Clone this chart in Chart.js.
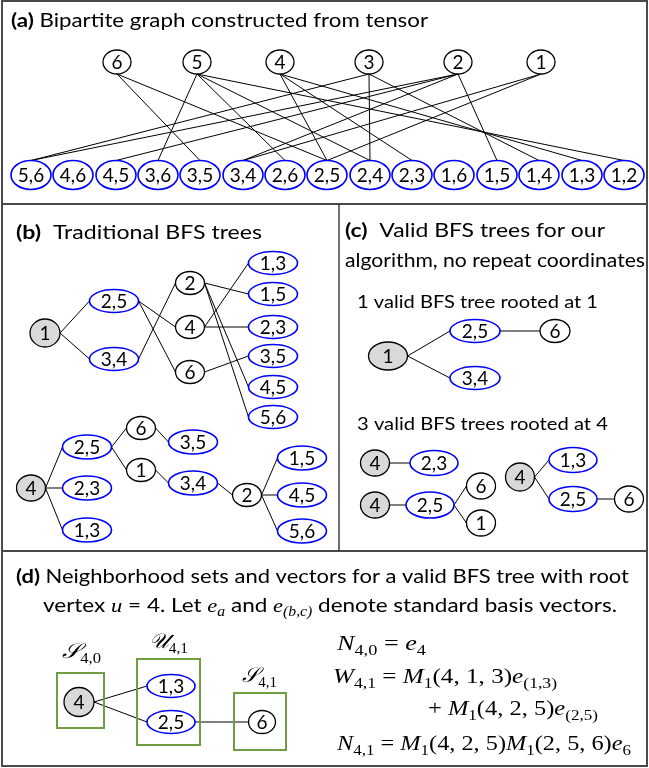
<!DOCTYPE html>
<html>
<head>
<meta charset="utf-8">
<script src="https://cdn.jsdelivr.net/npm/chart.js@4.4.0/dist/chart.umd.min.js"></script>
<style>
  html, body { margin: 0; padding: 0; background: #fff; }
  #wrap { width: 649px; height: 768px; }
</style>
</head>
<body>
<div id="wrap"><canvas id="fig" width="649" height="768"></canvas></div>
<script>
// (a) bipartite graph: tensor vertices on top, coordinate pairs below
const topLabels = ['6', '5', '4', '3', '2', '1'];
const topX = [117, 197, 280, 369, 458, 541];
const pairLabels = ['5,6', '4,6', '4,5', '3,6', '3,5', '3,4', '2,6', '2,5', '2,4', '2,3', '1,6', '1,5', '1,4', '1,3', '1,2'];
const pairX = [31, 73, 116, 158, 200, 243, 285, 327, 370, 412, 454, 497, 539, 582, 624];
const bipartiteEdges = [
  ['6', '3,5'], ['6', '2,5'],
  ['5', '3,6'], ['5', '2,6'], ['5', '2,4'], ['5', '1,2'],
  ['4', '2,5'], ['4', '2,3'], ['4', '1,3'],
  ['3', '5,6'], ['3', '2,4'], ['3', '1,4'],
  ['2', '5,6'], ['2', '4,5'], ['2', '3,4'], ['2', '1,5'],
  ['1', '3,4'], ['1', '2,5']
];

// (b) traditional BFS tree rooted at 1
const bfs1Labels = ['1', '2,5', '3,4', '2', '4', '6', '1,3', '1,5', '2,3', '3,5', '4,5', '5,6'];
const bfs1X = [45, 114, 114, 190, 190, 190, 273, 273, 273, 273, 273, 273];
const bfs1Y = [333, 301, 359, 283, 327, 372, 263, 294, 327, 356, 387, 417];
const bfs1Edges = [['1', '2,5'], ['1', '3,4'], ['2,5', '4'], ['2,5', '6'], ['3,4', '2'],
  ['2', '1,5'], ['2', '4,5'], ['2', '5,6'], ['4', '1,3'], ['4', '2,3'], ['6', '3,5']];

// (b) traditional BFS tree rooted at 4
const bfs4Labels = ['4', '2,5', '2,3', '1,3', '6', '1', '3,5', '3,4', '2', '1,5', '4,5', '5,6'];
const bfs4X = [31, 87, 87, 87, 141, 141, 193, 193, 247, 302, 302, 302];
const bfs4Y = [488, 447, 488, 530, 428, 470, 442, 483, 495, 458, 495, 531];
const bfs4Edges = [['4', '2,5'], ['4', '2,3'], ['4', '1,3'], ['2,5', '6'], ['2,5', '1'],
  ['6', '3,5'], ['1', '3,4'], ['3,4', '2'], ['2', '1,5'], ['2', '4,5'], ['2', '5,6']];

// (c) valid BFS trees
const valid1Labels = ['1', '2,5', '3,4', '6'];
const valid1X = [388, 475, 475, 555];
const valid1Y = [356, 331, 378, 331];
const valid1Edges = [['1', '2,5'], ['1', '3,4'], ['2,5', '6']];

const validALabels = ['4', '2,3'];
const validAX = [375, 434];
const validAY = [463, 463];
const validAEdges = [['4', '2,3']];

const validBLabels = ['4', '2,5', '6', '1'];
const validBX = [375, 430, 481, 481];
const validBY = [505, 505, 486, 523];
const validBEdges = [['4', '2,5'], ['2,5', '6'], ['2,5', '1']];

const validCLabels = ['4', '1,3', '2,5', '6'];
const validCX = [520, 573, 573, 629];
const validCY = [477, 460, 499, 499];
const validCEdges = [['4', '1,3'], ['4', '2,5'], ['2,5', '6']];

// (d) neighborhood sets
const hoodLabels = ['4', '1,3', '2,5', '6'];
const hoodX = [79, 171, 171, 262];
const hoodY = [702, 686, 722, 722];
const hoodEdges = [['4', '1,3'], ['4', '2,5'], ['2,5', '6']];

// ---------------------------------------------------------------
const BLUE = '#0000ff';
const GRAY = '#d9d9d9';
const GREEN = '#6f9e43';
const SANS = 'Lato';
const SERIF = '"Liberation Serif"';

function isPair(l) { return l.indexOf(',') >= 0; }

// node groups built from the arrays above (root = first node of a tree)
const groups = [
  { labels: topLabels.concat(pairLabels), xs: topX.concat(pairX),
    ys: topLabels.map(() => 62).concat(pairLabels.map(() => 175)),
    edges: bipartiteEdges, link: 'vertical', root: false,
    vert: [14, 12], pair: [20, 14.5] },
  { labels: bfs1Labels, xs: bfs1X, ys: bfs1Y, edges: bfs1Edges, link: 'side', root: true,
    vert: [14.5, 11.5], pair: [24.5, 11.5], rootSize: [15, 14] },
  { labels: bfs4Labels, xs: bfs4X, ys: bfs4Y, edges: bfs4Edges, link: 'side', root: true,
    vert: [14.5, 11.5], pair: [24.5, 12], rootSize: [14.5, 13] },
  { labels: valid1Labels, xs: valid1X, ys: valid1Y, edges: valid1Edges, link: 'side', root: true,
    vert: [15, 11.5], pair: [25, 11.5], rootSize: [19.5, 14] },
  { labels: validALabels, xs: validAX, ys: validAY, edges: validAEdges, link: 'side', root: true,
    vert: [14.5, 13], pair: [24, 12.5], rootSize: [14.5, 13] },
  { labels: validBLabels, xs: validBX, ys: validBY, edges: validBEdges, link: 'side', root: true,
    vert: [14.5, 13], pair: [24, 13], rootSize: [14.5, 13] },
  { labels: validCLabels, xs: validCX, ys: validCY, edges: validCEdges, link: 'side', root: true,
    vert: [14.5, 13], pair: [24, 12.5], rootSize: [14.5, 14] },
  { labels: hoodLabels, xs: hoodX, ys: hoodY, edges: hoodEdges, link: 'side', root: true,
    vert: [13.5, 11.5], pair: [24, 11.5], rootSize: [15, 14.5] }
];

function nodeSize(g, i) {
  if (g.root && i === 0) return g.rootSize;
  return isPair(g.labels[i]) ? g.pair : g.vert;
}

function edgeEnds(g, a, b) {
  const i = g.labels.indexOf(a), j = g.labels.indexOf(b);
  const si = nodeSize(g, i), sj = nodeSize(g, j);
  if (g.link === 'vertical') {
    return [{ x: g.xs[i], y: g.ys[i] + si[1] }, { x: g.xs[j], y: g.ys[j] - sj[1] }];
  }
  return [{ x: g.xs[i] + si[0], y: g.ys[i] }, { x: g.xs[j] - sj[0], y: g.ys[j] }];
}

const datasets = [];
groups.forEach(g => {
  g.edges.forEach(([a, b]) => {
    datasets.push({
      data: edgeEnds(g, a, b), showLine: true, borderColor: '#000', borderWidth: 1,
      pointRadius: 0, pointHoverRadius: 0, tension: 0, clip: false
    });
  });
});
groups.forEach(g => {
  datasets.push({
    nodeGroup: g, showLine: false, pointRadius: 0, pointHoverRadius: 0, clip: false,
    data: g.labels.map((l, i) => ({ x: g.xs[i], y: g.ys[i] }))
  });
});

// rich text: [text, style]; b bold, n normal, mi/mr math italic/roman, si/sr subscripts
function fontFor(style, size) {
  const sz = style[0] === 's' ? size * 0.7 : size;
  if (style === 'b') return `bold ${sz}px ${SANS}`;
  if (style === 'n') return `${sz}px ${SANS}`;
  if (style === 'mi' || style === 'si') return `italic ${sz}px ${SERIF}`;
  return `${sz}px ${SERIF}`;
}
function drawRich(ctx, parts, x, y, size, width) {
  let total = 0;
  const ws = parts.map(([t, s]) => {
    ctx.font = fontFor(s, size);
    const w = ctx.measureText(t).width;
    total += w;
    return w;
  });
  const k = width ? width / total : 1;
  ctx.save();
  ctx.translate(x, y);
  ctx.scale(k, 1);
  ctx.fillStyle = '#000';
  ctx.textAlign = 'left';
  ctx.textBaseline = 'alphabetic';
  let cx = 0;
  parts.forEach(([t, s], i) => {
    ctx.font = fontFor(s, size);
    ctx.fillText(t, cx, s[0] === 's' ? size * 0.22 : 0);
    cx += ws[i];
  });
  ctx.restore();
}

const captions = [
  { parts: [['(a)', 'b'], [' Bipartite graph constructed from tensor', 'n']], x: 11, y: 27, size: 19.5, w: 417 },
  { parts: [['(b)', 'b'], ['  Traditional BFS trees', 'n']], x: 16, y: 239, size: 19.5, w: 246 },
  { parts: [['(c)', 'b'], ['  Valid BFS trees for our', 'n']], x: 345, y: 237, size: 19.5, w: 260 },
  { parts: [['algorithm, no repeat coordinates', 'n']], x: 345, y: 267, size: 19.5, w: 300 },
  { parts: [['1 valid BFS tree rooted at 1', 'n']], x: 357, y: 308, size: 18, w: 241 },
  { parts: [['3 valid BFS trees rooted at 4', 'n']], x: 357, y: 430, size: 18, w: 251 },
  { parts: [['(d)', 'b'], [' Neighborhood sets and vectors for a valid BFS tree with root', 'n']], x: 16, y: 583, size: 19.5, w: 613 },
  { parts: [['vertex ', 'n'], ['u', 'mi'], [' = 4. Let ', 'n'], ['e', 'mi'], ['a', 'si'], [' and ', 'n'],
    ['e', 'mi'], ['(b,c)', 'si'], [' denote standard basis vectors.', 'n']], x: 43, y: 612, size: 19.5, w: 574 },
  { parts: [['\u{1D4AE}', 'mi'], ['4,0', 'sr']], x: 62, y: 658, size: 21, w: 39 },
  { parts: [['\u{1D4B0}', 'mi'], ['4,1', 'sr']], x: 149, y: 648, size: 21, w: 39 },
  { parts: [['\u{1D4AE}', 'mi'], ['4,1', 'sr']], x: 242, y: 682, size: 21, w: 35 },
  { parts: [['N', 'mi'], ['4,0', 'sr'], [' = ', 'mr'], ['e', 'mi'], ['4', 'sr']], x: 337, y: 650, size: 21, w: 89 },
  { parts: [['W', 'mi'], ['4,1', 'sr'], [' = ', 'mr'], ['M', 'mi'], ['1', 'sr'], ['(4, 1, 3)', 'mr'], ['e', 'mi'], ['(1,3)', 'sr']],
    x: 333, y: 683, size: 21, w: 224 },
  { parts: [['+ ', 'mr'], ['M', 'mi'], ['1', 'sr'], ['(4, 2, 5)', 'mr'], ['e', 'mi'], ['(2,5)', 'sr']], x: 428, y: 715, size: 21, w: 170 },
  { parts: [['N', 'mi'], ['4,1', 'sr'], [' = ', 'mr'], ['M', 'mi'], ['1', 'sr'], ['(4, 2, 5)', 'mr'], ['M', 'mi'], ['1', 'sr'],
    ['(2, 5, 6)', 'mr'], ['e', 'mi'], ['6', 'sr']], x: 337, y: 750, size: 21, w: 294 }
];

// green boxes around neighbourhood sets in (d): [x0, y0, x1, y1]
const setBoxes = [[57, 673, 104, 728], [137, 659, 200, 745], [234, 693, 286, 750]];

const figurePlugin = {
  id: 'figure',
  afterDatasetsDraw(chart) {
    const { ctx, scales } = chart;
    const X = v => scales.x.getPixelForValue(v);
    const Y = v => scales.y.getPixelForValue(v);
    ctx.save();

    // nodes
    chart.data.datasets.forEach((ds, di) => {
      if (!ds.nodeGroup) return;
      const g = ds.nodeGroup;
      chart.getDatasetMeta(di).data.forEach((pt, i) => {
        const [rx, ry] = nodeSize(g, i);
        const prx = X(g.xs[i] + rx) - pt.x;
        const pry = Y(g.ys[i] + ry) - pt.y;
        const pair = isPair(g.labels[i]);
        const root = g.root && i === 0;
        ctx.beginPath();
        ctx.ellipse(pt.x, pt.y, Math.abs(prx), Math.abs(pry), 0, 0, Math.PI * 2);
        ctx.fillStyle = root ? GRAY : '#fff';
        ctx.fill();
        ctx.lineWidth = pair ? 1.6 : 1.3;
        ctx.strokeStyle = pair ? BLUE : '#000';
        ctx.stroke();
        ctx.fillStyle = '#000';
        ctx.font = `19px ${SANS}`;
        ctx.textAlign = 'center';
        ctx.textBaseline = 'alphabetic';
        ctx.fillText(g.labels[i], pt.x, pt.y + 7);
      });
    });

    // boxes
    ctx.strokeStyle = GREEN;
    ctx.lineWidth = 2;
    setBoxes.forEach(([x0, y0, x1, y1]) => {
      ctx.strokeRect(X(x0), Y(y0), X(x1) - X(x0), Y(y1) - Y(y0));
    });

    // panel frame
    ctx.strokeStyle = '#4a4a4a';
    ctx.lineWidth = 2;
    ctx.strokeRect(X(2), Y(1), X(647) - X(2), Y(766) - Y(1));
    ctx.beginPath();
    ctx.moveTo(X(2), Y(204)); ctx.lineTo(X(647), Y(204));
    ctx.moveTo(X(2), Y(551)); ctx.lineTo(X(647), Y(551));
    ctx.stroke();
    ctx.lineWidth = 1.3;
    ctx.strokeStyle = '#222';
    ctx.beginPath();
    ctx.moveTo(X(339), Y(204)); ctx.lineTo(X(339), Y(551));
    ctx.stroke();

    captions.forEach(c => drawRich(ctx, c.parts, X(c.x), Y(c.y), c.size, c.w));
    ctx.restore();
  }
};

new Chart(document.getElementById('fig'), {
  type: 'scatter',
  data: { datasets },
  options: {
    responsive: false,
    devicePixelRatio: 1,
    animation: false,
    events: [],
    layout: { padding: 0 },
    scales: {
      x: { type: 'linear', min: 0, max: 649, display: false },
      y: { type: 'linear', min: 0, max: 768, reverse: true, display: false }
    },
    plugins: { legend: { display: false }, tooltip: { enabled: false } }
  },
  plugins: [figurePlugin]
});
</script>
</body>
</html>
